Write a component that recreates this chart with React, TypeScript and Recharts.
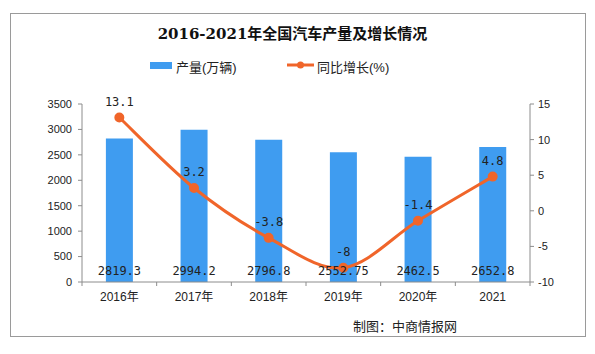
import { ComposedChart, Bar, Line, XAxis, YAxis, LabelList, Legend } from 'recharts'

const years = ['2016年', '2017年', '2018年', '2019年', '2020年', '2021']
const output = [2819.3, 2994.2, 2796.8, 2552.75, 2462.5, 2652.8]
const growth = [13.1, 3.2, -3.8, -8, -1.4, 4.8]
const leftTicks = [0, 500, 1000, 1500, 2000, 2500, 3000, 3500]
const rightTicks = [-10, -5, 0, 5, 10, 15]

const data = years.map((year, i) => ({ year, output: output[i], growth: growth[i] }))

const BLUE = '#3f9cf0'
const ORANGE = '#f0652a'
const AXIS = '#8c8c8c'
const NUM_FONT = '"DejaVu Sans Mono", monospace'
const SANS = '"Liberation Sans", "Noto Sans CJK SC", sans-serif'

// Excel-style smoothed line (Catmull-Rom through every point)
function smoothCurve(context: any) {
  let pts: [number, number][] = []
  return {
    areaStart() {},
    areaEnd() {},
    lineStart() {
      pts = []
    },
    point(x: number, y: number) {
      pts.push([x, y])
    },
    lineEnd() {
      if (!pts.length) return
      context.moveTo(pts[0][0], pts[0][1])
      const k = 1 / 6
      for (let i = 0; i < pts.length - 1; i++) {
        const p0 = pts[i - 1] ?? pts[i]
        const p1 = pts[i]
        const p2 = pts[i + 1]
        const p3 = pts[i + 2] ?? p2
        context.bezierCurveTo(
          p1[0] + (p2[0] - p0[0]) * k,
          p1[1] + (p2[1] - p0[1]) * k,
          p2[0] - (p3[0] - p1[0]) * k,
          p2[1] - (p3[1] - p1[1]) * k,
          p2[0],
          p2[1]
        )
      }
    },
  }
}

function YearTick(props: any) {
  const { x, y, payload, index } = props
  const half = payload.offset ?? 37
  return (
    <g>
      <line x1={x - half} x2={x - half} y1={y - 10} y2={y - 6} stroke={AXIS} />
      {index === years.length - 1 && (
        <line x1={x + half} x2={x + half} y1={y - 10} y2={y - 6} stroke={AXIS} />
      )}
      <text x={x} y={y} dy="0.71em" textAnchor="middle" fontSize={12} fill="#222" fontFamily={SANS}>
        {payload.value}
      </text>
    </g>
  )
}

function TopLegend() {
  return (
    <div style={{ position: 'relative', height: 20, fontFamily: SANS, fontSize: 13, color: '#222' }}>
      <div style={{ position: 'absolute', left: 150, top: 5, width: 22, height: 7, background: BLUE }} />
      <span style={{ position: 'absolute', left: 176, top: 0 }}>产量(万辆)</span>
      <svg style={{ position: 'absolute', left: 287, top: 2 }} width={27} height={12}>
        <line x1={0} x2={27} y1={6} y2={6} stroke={ORANGE} strokeWidth={3} />
        <circle cx={13.5} cy={6} r={3.5} fill={ORANGE} />
      </svg>
      <span style={{ position: 'absolute', left: 317, top: 0 }}>同比增长(%)</span>
    </div>
  )
}

export default function App() {
  return (
    <div style={{ position: 'relative', width: 595, height: 354, margin: -8, background: '#fff' }}>
      <div
        style={{
          position: 'absolute',
          left: 10,
          top: 13,
          width: 576,
          height: 324,
          border: '1px solid #9a9a9a',
          boxSizing: 'border-box',
        }}
      />
      <div
        style={{
          position: 'absolute',
          top: 22,
          left: 0,
          width: 585,
          textAlign: 'center',
          fontFamily: '"DejaVu Serif", "Noto Sans CJK SC", serif',
          fontWeight: 'bold',
          fontSize: 15,
          color: '#111',
        }}
      >
        2016-2021年全国汽车产量及增长情况
      </div>
      <div
        style={{
          position: 'absolute',
          top: 316,
          left: 353,
          fontFamily: SANS,
          fontSize: 13,
          color: '#222',
        }}
      >
        制图：中商情报网
      </div>
      <div style={{ position: 'absolute', left: 0, top: 0 }}>
        <ComposedChart
          width={595}
          height={354}
          data={data}
          margin={{ top: 84, right: 0, bottom: 0, left: 0 }}
          barCategoryGap="32%"
        >
          <Legend verticalAlign="top" wrapperStyle={{ top: 57, left: 0, width: 595 }} content={<TopLegend />} />
          <XAxis
            dataKey="year"
            height={72}
            stroke={AXIS}
            tickLine={false}
            tickSize={0}
            tickMargin={10}
            tick={<YearTick />}
            interval={0}
          />
          <YAxis
            yAxisId="left"
            width={82}
            domain={[0, 3500]}
            ticks={leftTicks}
            interval={0}
            stroke={AXIS}
            tickSize={4}
            tickMargin={6}
            tick={{ fill: '#222', fontSize: 11, fontFamily: SANS }}
          />
          <YAxis
            yAxisId="right"
            orientation="right"
            width={65}
            domain={[-10, 15]}
            ticks={rightTicks}
            interval={0}
            stroke={AXIS}
            tickSize={4}
            tickMargin={4}
            tick={{ fill: '#222', fontSize: 11, fontFamily: SANS }}
          />
          <Bar yAxisId="left" dataKey="output" fill={BLUE} isAnimationActive={false}>
            <LabelList
              dataKey="output"
              position="insideBottom"
              offset={7}
              style={{ fill: '#222', fontSize: 12, fontFamily: NUM_FONT }}
            />
          </Bar>
          <Line
            yAxisId="right"
            dataKey="growth"
            type={smoothCurve as any}
            stroke={ORANGE}
            strokeWidth={3}
            dot={{ r: 3.5, fill: ORANGE, stroke: ORANGE }}
            isAnimationActive={false}
          >
            <LabelList
              dataKey="growth"
              position="top"
              offset={12}
              style={{ fill: '#222', fontSize: 12, fontFamily: NUM_FONT }}
            />
          </Line>
        </ComposedChart>
      </div>
    </div>
  )
}
